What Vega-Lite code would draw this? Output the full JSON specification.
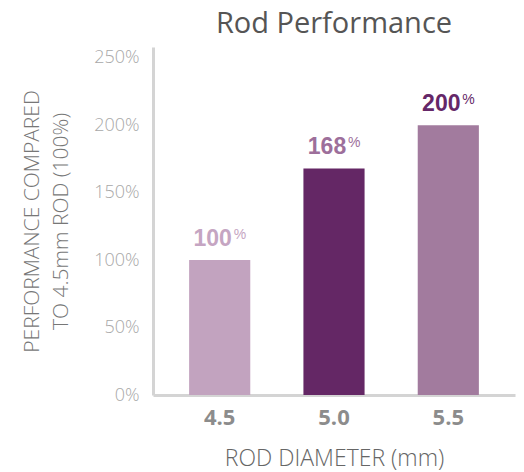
{
  "$schema": "https://vega.github.io/schema/vega-lite/v6.json",
  "autosize": {"type": "none"},
  "padding": {"left": 153, "top": 47, "right": 9, "bottom": 77},
  "width": 362,
  "height": 348,
  "background": "#ffffff",
  "title": {
    "text": "Rod Performance",
    "anchor": "middle",
    "fontSize": 29,
    "font": "Open Sans",
    "fontWeight": 400,
    "color": "#555555",
    "offset": 8
  },
  "data": {
    "values": [
      {"diameter": "4.5", "performance": 100},
      {"diameter": "5.0", "performance": 168},
      {"diameter": "5.5", "performance": 200}
    ]
  },
  "config": {
    "view": {"stroke": null},
    "font": "Open Sans"
  },
  "encoding": {
    "x": {
      "field": "diameter",
      "type": "nominal",
      "sort": null,
      "scale": {"paddingInner": 0.465, "paddingOuter": 0.316},
      "axis": {
        "title": "ROD DIAMETER (mm)",
        "titleFontSize": 23,
        "titleFontWeight": 300,
        "titleColor": "#666666",
        "titlePadding": 19,
        "labelAngle": 0,
        "labelFontSize": 22,
        "labelFontWeight": "bold",
        "labelColor": "#8c8c8c",
        "labelPadding": 12,
        "ticks": false,
        "domainColor": "#d4d4d4",
        "domainWidth": 3,
        "grid": false
      }
    },
    "y": {
      "field": "performance",
      "type": "quantitative",
      "scale": {"domain": [0, 258], "nice": false},
      "axis": {
        "title": ["PERFORMANCE COMPARED", "TO 4.5mm ROD (100%)"],
        "titleFontSize": 21,
        "titleFontWeight": 300,
        "titleColor": "#777777",
        "titlePadding": 22,
        "titleLineHeight": 29,
        "values": [0, 50, 100, 150, 200, 250],
        "labelExpr": "datum.value + '%'",
        "labelFontSize": 18,
        "labelFontWeight": 300,
        "labelColor": "#a8a8a8",
        "labelPadding": 14,
        "ticks": false,
        "grid": false,
        "domainColor": "#d4d4d4",
        "domainWidth": 3
      }
    }
  },
  "layer": [
    {
      "mark": {"type": "bar"},
      "encoding": {
        "color": {
          "field": "diameter",
          "type": "nominal",
          "scale": {"domain": ["4.5", "5.0", "5.5"], "range": ["#c2a3bf", "#642765", "#a27b9e"]},
          "legend": null
        }
      }
    },
    {
      "mark": {"type": "text", "baseline": "alphabetic", "align": "center", "dy": -14, "dx": -7, "fontSize": 23, "fontWeight": "bold", "font": "Liberation Sans"},
      "encoding": {
        "text": {"field": "performance", "type": "quantitative"},
        "color": {
          "field": "diameter",
          "type": "nominal",
          "scale": {"domain": ["4.5", "5.0", "5.5"], "range": ["#c5a5c2", "#9d6f9b", "#652768"]},
          "legend": null
        }
      }
    },
    {
      "mark": {"type": "text", "baseline": "alphabetic", "align": "left", "dy": -21, "dx": 14, "fontSize": 14, "fontWeight": "normal", "font": "Liberation Sans"},
      "encoding": {
        "text": {"value": "%"},
        "color": {
          "field": "diameter",
          "type": "nominal",
          "scale": {"domain": ["4.5", "5.0", "5.5"], "range": ["#c5a5c2", "#9d6f9b", "#652768"]},
          "legend": null
        }
      }
    }
  ],
  "resolve": {"scale": {"color": "independent"}}
}
